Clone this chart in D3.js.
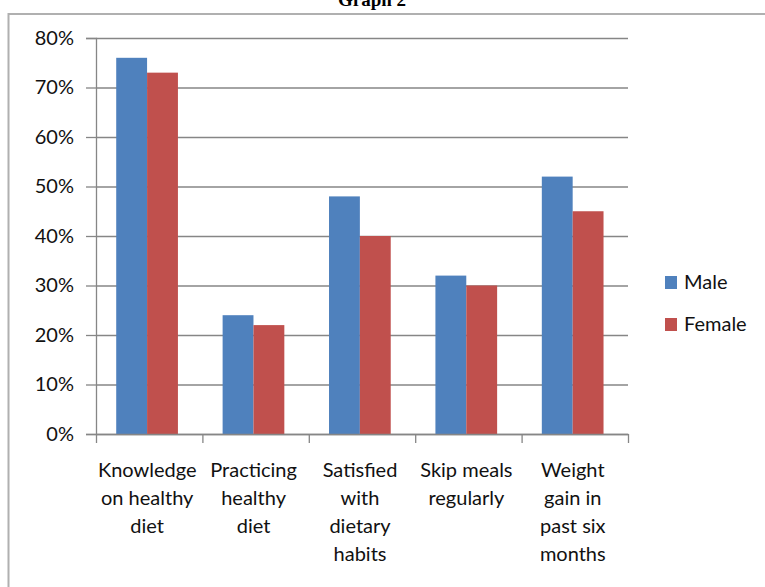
<!DOCTYPE html>
<html>
<head>
<meta charset="utf-8">
<script src="https://cdn.jsdelivr.net/npm/d3@7"></script>
<style>
  html, body { margin: 0; padding: 0; background: #fff; }
  svg { display: block; }
  text { font-family: Lato, "Open Sans", sans-serif; fill: #111; }
</style>
</head>
<body>
<svg id="chart" width="765" height="587"></svg>
<script>
// Survey results by gender
const categories = ["Knowledge on healthy diet", "Practicing healthy diet", "Satisfied with dietary habits", "Skip meals regularly", "Weight gain in past six months"];
const categoryLines = [
  ["Knowledge", "on healthy", "diet"],
  ["Practicing", "healthy", "diet"],
  ["Satisfied", "with", "dietary", "habits"],
  ["Skip meals", "regularly"],
  ["Weight", "gain in", "past six", "months"]
];
const seriesNames = ["Male", "Female"];
const maleValues = [0.76, 0.24, 0.48, 0.32, 0.52];
const femaleValues = [0.73, 0.22, 0.40, 0.30, 0.45];
const yTicks = [0, 0.1, 0.2, 0.3, 0.4, 0.5, 0.6, 0.7, 0.8];
const seriesColors = ["#4F81BD", "#C0504D"];
const titleText = "Graph 2";

const svg = d3.select("#chart");
const plot = { left: 96, right: 628, top: 38, bottom: 434 };
const gridColor = "#868686";

// Outer frame of the chart object
svg.append("rect")
  .attr("x", 8.5).attr("y", 14)
  .attr("width", 800).attr("height", 600)
  .attr("fill", "none").attr("stroke", "#b0b0b0").attr("stroke-width", 2);

// Title (sits above the frame)
svg.append("text")
  .attr("x", 372).attr("y", 6)
  .attr("text-anchor", "middle")
  .style("font-family", "'Liberation Serif', 'Times New Roman', serif")
  .style("font-weight", "bold")
  .style("font-size", "19px")
  .style("fill", "#000")
  .text(titleText);

const x = d3.scaleBand().domain(categories).range([plot.left, plot.right]).padding(0);
const x1 = d3.scaleBand().domain(seriesNames)
  .range([x.bandwidth() * 0.19, x.bandwidth() * 0.77]).padding(0);
const y = d3.scaleLinear().domain([0, 0.8]).range([plot.bottom, plot.top]);

// Horizontal gridlines
const grid = svg.append("g")
  .attr("transform", `translate(${plot.left},0)`)
  .call(d3.axisLeft(y).tickValues(yTicks).tickSizeInner(-(plot.right - plot.left)).tickSizeOuter(0).tickFormat(""));
grid.select(".domain").remove();
grid.selectAll(".tick line").attr("stroke", gridColor).attr("stroke-width", 1.3);

// Y axis with outward ticks and percent labels
const yAxis = svg.append("g")
  .attr("transform", `translate(${plot.left},0)`)
  .call(d3.axisLeft(y).tickValues(yTicks).tickSize(10).tickPadding(12).tickFormat(d3.format(".0%")));
yAxis.select(".domain").attr("stroke", gridColor).attr("stroke-width", 1.3);
yAxis.selectAll(".tick line").attr("stroke", gridColor).attr("stroke-width", 1.3);
yAxis.selectAll(".tick text")
  .style("font-family", "Lato, sans-serif")
  .style("font-size", "20px")
  .attr("fill", "#111");

// Bars
const rows = categories.map((c, i) => ({ cat: c, values: [maleValues[i], femaleValues[i]] }));
const groups = svg.append("g").selectAll("g")
  .data(rows).join("g")
  .attr("transform", d => `translate(${x(d.cat)},0)`);
groups.selectAll("rect")
  .data(d => d.values.map((v, j) => ({ key: seriesNames[j], value: v, color: seriesColors[j] })))
  .join("rect")
  .attr("x", d => x1(d.key))
  .attr("width", x1.bandwidth())
  .attr("y", d => y(d.value))
  .attr("height", d => y(0) - y(d.value))
  .attr("fill", d => d.color);

// X axis: baseline with ticks at category boundaries
const xb = d3.scaleLinear().domain([0, categories.length]).range([plot.left, plot.right]);
const xAxis = svg.append("g")
  .attr("transform", `translate(0,${plot.bottom})`)
  .call(d3.axisBottom(xb).tickValues(d3.range(categories.length + 1)).tickSize(9).tickSizeOuter(0).tickFormat(""));
xAxis.select(".domain").attr("stroke", gridColor).attr("stroke-width", 1.3);
xAxis.selectAll(".tick line").attr("stroke", gridColor).attr("stroke-width", 1.3);

// Multi-line category labels
const labels = svg.append("g").selectAll("text")
  .data(categories).join("text")
  .attr("text-anchor", "middle")
  .attr("x", d => x(d) + x.bandwidth() / 2 - 2)
  .attr("y", 477)
  .style("font-size", "20px");
labels.selectAll("tspan")
  .data((d, i) => categoryLines[i])
  .join("tspan")
  .attr("x", function () { return d3.select(this.parentNode).attr("x"); })
  .attr("dy", (d, i) => i === 0 ? 0 : 28)
  .text(d => d);

// Legend
const legend = svg.append("g").selectAll("g")
  .data(seriesNames).join("g")
  .attr("transform", (d, i) => `translate(665,${276 + i * 42})`);
legend.append("rect")
  .attr("width", 12).attr("height", 13)
  .attr("fill", (d, i) => seriesColors[i]);
legend.append("text")
  .attr("x", 19).attr("y", 13)
  .style("font-size", "20px")
  .text(d => d);
</script>
</body>
</html>
